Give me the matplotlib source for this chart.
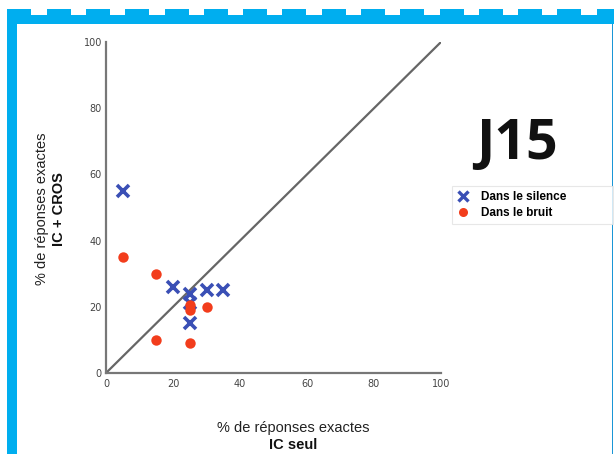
import matplotlib
matplotlib.use("Agg")
import matplotlib.pyplot as plt
from matplotlib.patches import Rectangle
from matplotlib.lines import Line2D

# Data
silence_x = [5, 20, 25, 30, 35, 25, 25]
silence_y = [55, 26, 24, 25, 25, 15, 21]
bruit_x = [5, 15, 25, 25, 30, 15, 25]
bruit_y = [35, 30, 20.5, 19, 20, 10, 9]
ticks = [0, 20, 40, 60, 80, 100]

W, H = 614, 454
fig = plt.figure(figsize=(W / 100, H / 100), dpi=100)

def px(x, y):
    # pixel (from top-left) -> figure fraction
    return x / W, 1 - y / H

# Blue frame around the slide
frame_blue = "#00aeef"
for k in range(16):
    x0 = 7.3 + 39.3 * k
    fig.add_artist(Rectangle(px(x0, 15), 24 / W, 6 / H, transform=fig.transFigure,
                             color=frame_blue, lw=0))
fig.add_artist(Rectangle(px(7.3, 24), (W - 7.3) / W, 9 / H, transform=fig.transFigure,
                         color=frame_blue, lw=0))
fig.add_artist(Rectangle(px(7.3, H), 9.4 / W, (H - 9) / H, transform=fig.transFigure,
                         color=frame_blue, lw=0))
fig.add_artist(Rectangle(px(612, H), 1.2 / W, (H - 24) / H, transform=fig.transFigure,
                         color="#1a96d6", lw=0))

l, t = px(106, 42)
r, b = px(441, 373)
ax = fig.add_axes([l, b, r - l, t - b])

ax.plot([0, 100], [0, 100], color="#666666", lw=1.6, zorder=1)
ax.plot(silence_x, silence_y, linestyle="none", marker="x", color="#3a4fb5",
        markersize=9, mew=2.6, zorder=2)
ax.plot(bruit_x, bruit_y, linestyle="none", marker="o", color="#f23d1c",
        markersize=7.5, mew=0, zorder=3)

ax.set_xlim(0, 100)
ax.set_ylim(0, 100)
ax.set_xticks(ticks)
ax.set_yticks(ticks)
ax.tick_params(length=0, labelsize=7, colors="#444444")
ax.tick_params(axis="y", pad=3)
ax.tick_params(axis="x", pad=4.5)
for s in ["top", "right"]:
    ax.spines[s].set_visible(False)
for s in ["left", "bottom"]:
    ax.spines[s].set_color("#777777")
    ax.spines[s].set_linewidth(1.6)
ax.set_facecolor("none")

lab_font = "Liberation Sans"
fig.text(*px(293, 428), "% de réponses exactes", ha="center", va="center",
         fontsize=10.5, family=lab_font, color="#222222")
fig.text(*px(293, 445), "IC seul", ha="center", va="center",
         fontsize=10.5, family=lab_font, fontweight="bold", color="#111111")
fig.text(*px(42, 209), "% de réponses exactes", ha="center", va="center",
         rotation=90, fontsize=10.5, family=lab_font, color="#222222")
fig.text(*px(59, 209), "IC + CROS", ha="center", va="center",
         rotation=90, fontsize=10.5, family=lab_font, fontweight="bold", color="#111111")

fig.text(*px(517, 145), "J15", ha="center", va="center", fontsize=40,
         family="Open Sans", fontweight="bold", color="#111111")

handles = [
    Line2D([], [], linestyle="none", marker="x", color="#3a4fb5", markersize=7, mew=2.4),
    Line2D([], [], linestyle="none", marker="o", color="#f23d1c", markersize=6.5, mew=0),
]
lx, ly = px(452, 229)
bw = (613 - 452) / W
bh = (229 - 186) / H
leg = fig.legend(handles, ["Dans le silence", "Dans le bruit"], loc="upper left",
                 bbox_to_anchor=(lx, ly, bw, bh), mode="expand", frameon=True,
                 fancybox=False,
                 prop={"family": lab_font, "size": 8.5, "weight": "bold"},
                 handlelength=1.0, handletextpad=1.0, borderpad=0.45,
                 labelspacing=0.3, borderaxespad=0)
leg.get_frame().set_edgecolor("#e2e2e2")
leg.get_frame().set_linewidth(0.8)

fig.savefig("out.png", dpi=100)
